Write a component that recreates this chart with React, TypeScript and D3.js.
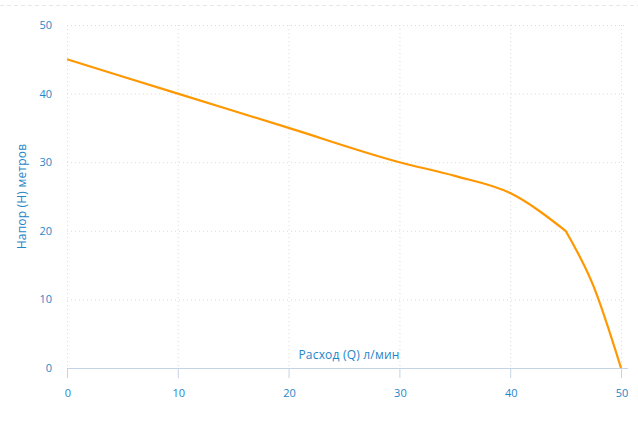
import React from 'react';
import * as d3 from 'd3';

const flow = [0, 10, 20, 30, 35, 40, 45, 47.5, 50];
const head = [45, 40, 35, 30, 28, 25.5, 20, 12, 0];
const breakAt = 45; // the curve has a sharp bend here
const xTicks = [0, 10, 20, 30, 40, 50];
const yTicks = [0, 10, 20, 30, 40, 50];

const W = 638;
const H = 431;
const font = '"Open Sans", "DejaVu Sans", sans-serif';
const tickColor = '#1f86c9';

const App: React.FC = () => {
  const x = d3.scaleLinear().domain([0, 50]).range([67, 621]);
  const y = d3.scaleLinear().domain([0, 50]).range([368, 25]);

  const points = flow.map((q, i) => [q, head[i]] as [number, number]);
  const lineA = d3
    .line<[number, number]>()
    .x(d => x(d[0]))
    .y(d => y(d[1]))
    .curve(d3.curveMonotoneX);
  const lineB = lineA.curve(d3.curveNatural);
  const partA = points.filter(p => p[0] <= breakAt);
  const partB = points.filter(p => p[0] >= breakAt);
  const pathA = d3.line<[number, number]>().x(d => x(d[0])).y(d => y(d[1])).curve(d3.curveMonotoneX)(partA) ?? '';
  const pathB = (lineB(partB) ?? '').replace(/^M[^A-Za-z]*/, '');

  return (
    <svg
      width={W}
      height={H}
      style={{ position: 'absolute', left: 0, top: 0, fontFamily: font }}
    >
      <line x1={0} x2={W} y1={5.5} y2={5.5} stroke="#e6e6e6" strokeDasharray="4,3" />

      {/* grid */}
      {yTicks.filter(t => t > 0).map(t => (
        <line key={'gy' + t} x1={x(0)} x2={625} y1={y(t) + 0.5} y2={y(t) + 0.5}
          stroke="#dcdcdc" strokeDasharray="1,3" />
      ))}
      {xTicks.map(t => (
        <line key={'gx' + t} x1={x(t) + 0.5} x2={x(t) + 0.5} y1={y(50)} y2={y(0)}
          stroke="#dcdcdc" strokeDasharray="1,3" />
      ))}

      {/* x axis */}
      <line x1={x(0)} x2={628} y1={y(0) + 0.5} y2={y(0) + 0.5} stroke="#c5d3e6" />
      {xTicks.map(t => (
        <g key={'xt' + t}>
          <line x1={x(t) + 0.5} x2={x(t) + 0.5} y1={y(0)} y2={y(0) + 10} stroke="#c5d3e6" />
          <text x={x(t) + 1} y={397} textAnchor="middle" fontSize={11} fill={tickColor}>{t}</text>
        </g>
      ))}

      {/* y ticks */}
      {yTicks.map(t => (
        <text key={'yt' + t} x={52} y={y(t) + 4} textAnchor="end" fontSize={11} fill={tickColor}>{t}</text>
      ))}

      <text x={349} y={359} textAnchor="middle" fontSize={12} letterSpacing={0.2} fill={tickColor}>Расход (Q) л/мин</text>
      <text transform={`translate(26,${(y(0) + y(50)) / 2}) rotate(-90)`} textAnchor="middle"
        fontSize={12} letterSpacing={0.2} fill={tickColor}>Напор (Н) метров</text>

      <path d={pathA + pathB}
        fill="none" stroke="#ff9800" strokeWidth={2.2} strokeLinejoin="round" />
    </svg>
  );
};

export default App;
